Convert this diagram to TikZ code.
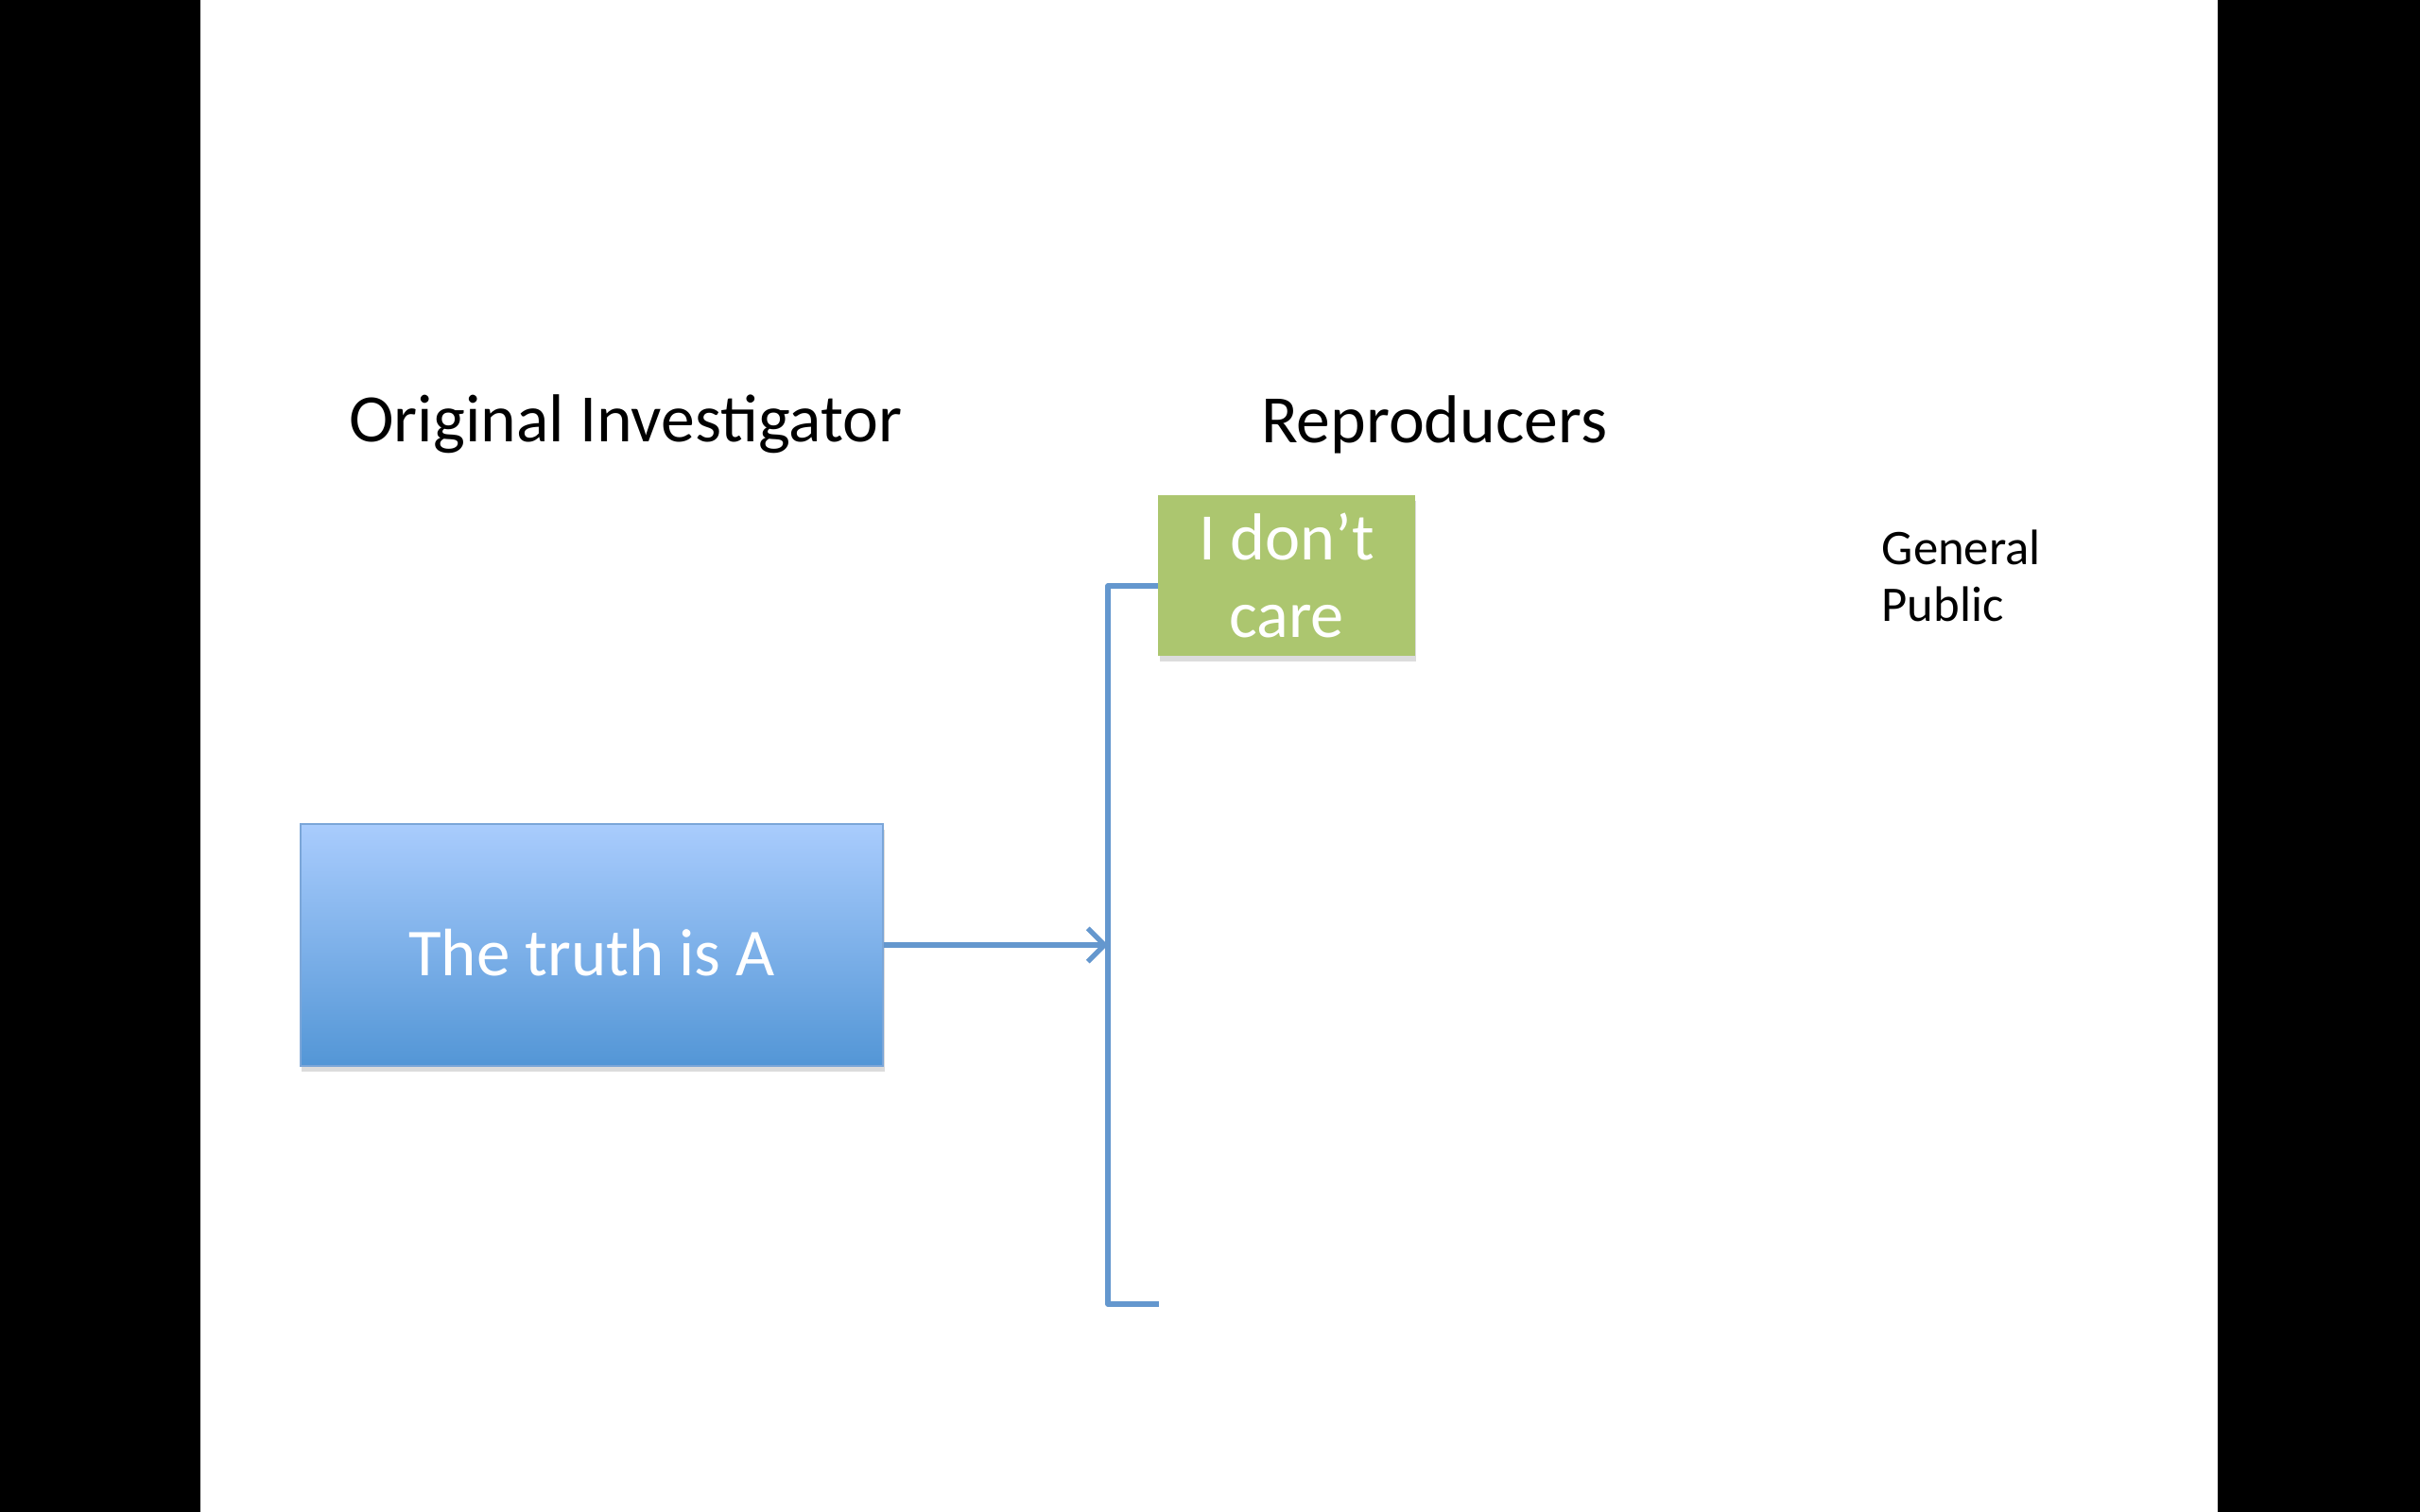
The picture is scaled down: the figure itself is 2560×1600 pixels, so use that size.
\documentclass[tikz,border=0pt]{standalone}
\usepackage{fontspec}
\setmainfont{Carlito}
\usetikzlibrary{arrows.meta,shadows}
\definecolor{boxtop}{HTML}{A9CCFD}
\definecolor{boxbot}{HTML}{5396D6}
\definecolor{boxline}{HTML}{7BA6D8}
\definecolor{caregreen}{HTML}{ACC66F}
\definecolor{linkblue}{HTML}{6497CE}
\tikzset{
  heading/.style={font=\fontsize{20.4}{24}\selectfont, inner sep=0pt},
  truthbox/.style={rectangle, top color=boxtop, bottom color=boxbot, draw=boxline, line width=0.6pt,
    minimum width=6.16cm, minimum height=2.56cm, text=white, font=\fontsize{20.2}{24}\selectfont,
    text height=18.6pt, text depth=0pt,
    drop shadow={shadow xshift=0.4pt, shadow yshift=-1.6pt, fill=black!30, opacity=0.45}},
  carebox/.style={rectangle, fill=caregreen, minimum width=2.71cm, minimum height=1.70cm, inner sep=0pt,
    text=white, align=center, font=\fontsize{20}{23.3}\selectfont,
    drop shadow={shadow xshift=0.4pt, shadow yshift=-1.6pt, fill=black!30, opacity=0.45}},
  bracket/.style={draw=linkblue, line width=1.5pt, line join=round},
  link/.style={draw=linkblue, line width=1.5pt, -{Straight Barb[length=5pt, width=10pt, line width=1.5pt]}}
}
\begin{document}
\begin{tikzpicture}[x=0.01cm, y=-0.01cm]
  % slide and black side bars
  \fill[black] (0,0) rectangle (2560,1600);
  \fill[white] (212,0) rectangle (2346,1600);
  \useasboundingbox (0,0) rectangle (2560,1600);

  % column headings
  \node[heading] (orig) at (662,449) {Original Investigator};
  \node[heading] (repro) at (1517,449) {Reproducers};
  \node[anchor=north west, align=left, inner sep=0pt, font=\fontsize{15}{17}\selectfont] (public) at (1990,560) {General\\Public};

  % boxes
  \node[truthbox] (truth) at (626,1000) {The truth is A};
  \node[carebox] (care) at (1361,609) {I don’t\\care};

  % bracket and arrow
  \coordinate (brtop) at (1172,620);
  \coordinate (brbot) at (1172,1380);
  \coordinate (brend) at (1226,1380);
  \draw[bracket] (brend) -- (brbot) -- (brtop) -- (brtop -| care.west);
  \draw[link] (truth.east) -- (truth.east -| brtop);
\end{tikzpicture}
\end{document}
